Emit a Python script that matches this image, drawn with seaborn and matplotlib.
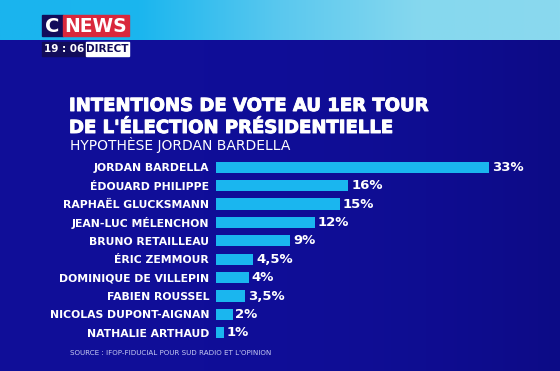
import matplotlib
matplotlib.use("Agg")
import matplotlib.pyplot as plt
import matplotlib.patheffects as pe
import seaborn as sns
import numpy as np
import pandas as pd
from matplotlib.patches import Rectangle
from matplotlib.colors import LinearSegmentedColormap

candidates = ["JORDAN BARDELLA", "ÉDOUARD PHILIPPE", "RAPHAËL GLUCKSMANN",
              "JEAN-LUC MÉLENCHON", "BRUNO RETAILLEAU", "ÉRIC ZEMMOUR",
              "DOMINIQUE DE VILLEPIN", "FABIEN ROUSSEL", "NICOLAS DUPONT-AIGNAN",
              "NATHALIE ARTHAUD"]
values = [33, 16, 15, 12, 9, 4.5, 4, 3.5, 2, 1]
value_labels = ["33%", "16%", "15%", "12%", "9%", "4,5%", "4%", "3,5%", "2%", "1%"]

title_lines = ["INTENTIONS DE VOTE AU 1ER TOUR", "DE L'ÉLECTION PRÉSIDENTIELLE"]
subtitle = "HYPOTHÈSE JORDAN BARDELLA"
source = "SOURCE : IFOP-FIDUCIAL POUR SUD RADIO ET L'OPINION"

BG = "#100e98"
BAR = "#1ab6ef"
W, H = 560, 371

sns.set_style("white")
plt.rcParams["font.family"] = ["DejaVu Sans"]

fig = plt.figure(figsize=(W / 100, H / 100), dpi=100)
fig.patch.set_facecolor(BG)

# background / decoration axes in pixel coordinates
bg = fig.add_axes([0, 0, 1, 1])
bg.axis("off")
bg.add_patch(Rectangle((0, 0), W, H, color=BG, zorder=0))
cmap = LinearSegmentedColormap.from_list("top", ["#1ab4ee", "#1bb6ee", "#5ac8ef", "#86d8ee", "#8ad9ee"])
bg.imshow(np.linspace(0, 1, 256)[None, :], extent=(0, W, 40, 0), aspect="auto", cmap=cmap, zorder=1)
cmap2 = LinearSegmentedColormap.from_list("dark", [(0.06, 0.055, 0.6, 0.0), (0.03, 0.03, 0.42, 0.4)])
bg.imshow(np.linspace(0, 1, 256)[None, :], extent=(200, W, H, 40), aspect="auto", cmap=cmap2, zorder=1)
bg.set_xlim(0, W)
bg.set_ylim(H, 0)

# logo
bg.add_patch(Rectangle((42, 15), 21, 21, color="#120c5a", zorder=2))
bg.add_patch(Rectangle((63, 15), 66, 21, color="#d9283c", zorder=2))
bg.text(52.5, 26, "C", color="white", fontsize=14, fontweight="bold", ha="center", va="center", zorder=3)
bg.text(96, 26, "NEWS", color="white", fontsize=13.5, fontweight="bold", ha="center", va="center", zorder=3)
bg.add_patch(Rectangle((42, 42), 44, 14, color="#120c5a", zorder=2))
bg.add_patch(Rectangle((86, 42), 43, 14, color="white", zorder=2))
bg.text(64, 49.5, "19 : 06", color="white", fontsize=7.5, fontweight="bold", ha="center", va="center", zorder=3)
bg.text(107.5, 49.5, "DIRECT", color="#120c5a", fontsize=7.5, fontweight="bold", ha="center", va="center", zorder=3)

# titles
thick = [pe.withStroke(linewidth=0.7, foreground="white")]
bg.text(69, 111, title_lines[0], color="white", fontsize=13, fontweight="bold", ha="left",
        va="baseline", zorder=3, path_effects=thick)
bg.text(69, 133, title_lines[1], color="white", fontsize=13, fontweight="bold", ha="left",
        va="baseline", zorder=3, path_effects=thick)
bg.text(70, 150, subtitle, color="white", fontsize=10, ha="left", va="baseline", zorder=3)
bg.text(70, 355, source, color="#c8ccf4", fontsize=5.1, ha="left", va="baseline", zorder=3)

# bar chart
df = pd.DataFrame({"candidate": candidates, "value": values})
px_per_unit = 8.27
left_px, right_px = 216, W
top_px, bot_px = 158, 342
ax = fig.add_axes([left_px / W, 1 - bot_px / H, (right_px - left_px) / W, (bot_px - top_px) / H])
ax.patch.set_alpha(0)
sns.barplot(data=df, y="candidate", x="value", orient="h", color=BAR, width=0.6,
            saturation=1, linewidth=0, ax=ax, zorder=3)
ax.set_xlim(0, (right_px - left_px) / px_per_unit)
ax.set_xlabel("")
ax.set_ylabel("")
ax.set_xticks([])
for s in ax.spines.values():
    s.set_visible(False)
ax.tick_params(axis="y", length=0, pad=5)
ax.set_yticks(range(len(candidates)))
ax.set_yticklabels(candidates, color="white", fontsize=7.8, fontweight="bold")
ax.bar_label(ax.containers[0], labels=value_labels, padding=2, color="white",
             fontsize=9.5, fontweight="bold")

fig.savefig("out.png", dpi=100, facecolor=BG)
